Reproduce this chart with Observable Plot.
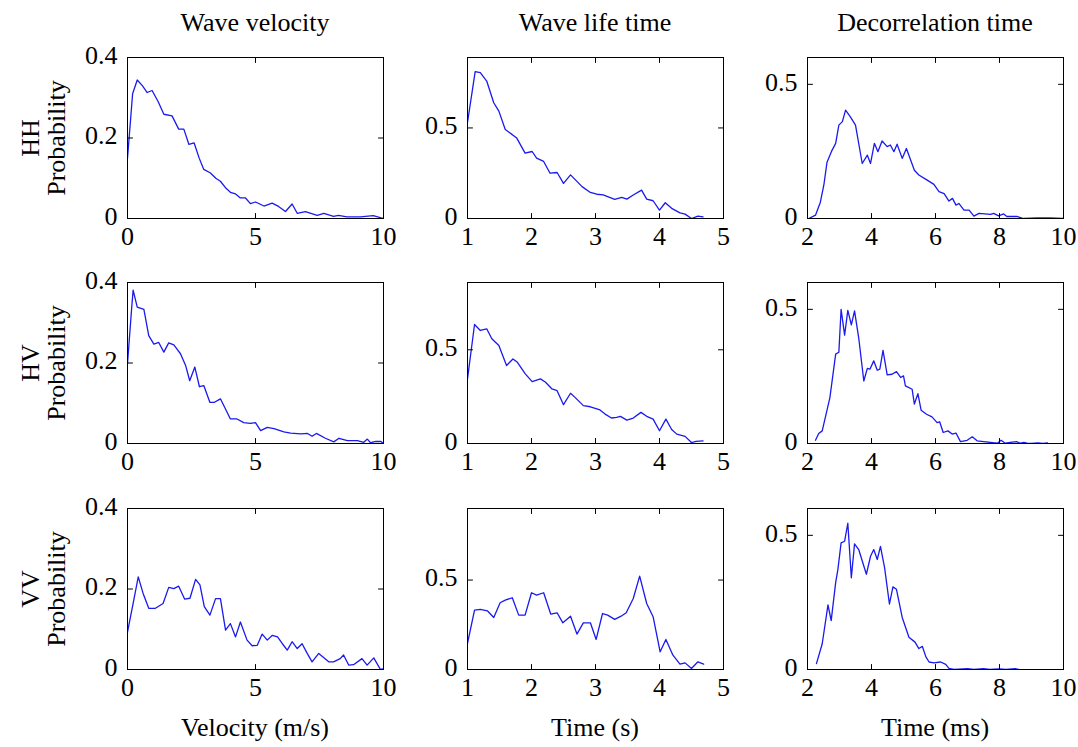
<!DOCTYPE html>
<html><head><meta charset="utf-8">
<script src="https://cdn.jsdelivr.net/npm/d3@7"></script>
<script src="https://cdn.jsdelivr.net/npm/@observablehq/plot@0.6"></script>
<style>
body{margin:0;background:#fff;}
#chart{position:relative;width:1078px;height:747px;font-family:"Liberation Serif",serif;font-size:26px;color:#000;overflow:hidden;}
.lbl{position:absolute;white-space:nowrap;line-height:26px;}
.panel{position:absolute;}
#chart svg, #chart svg text{font-family:"Liberation Serif",serif !important;font-size:26px !important;font-variant-numeric:normal !important;}
</style></head><body><div id="chart"></div>
<script>
// ---- labels ----
const columnTitles = ["Wave velocity", "Wave life time", "Decorrelation time"];
const xLabels = ["Velocity (m/s)", "Time (s)", "Time (ms)"];
const rowNames = ["HH", "HV", "VV"];
const yLabel = "Probability";

// ---- axis settings per column ----
const xDomains = [[0, 10], [1, 5], [2, 10]];
const xTickValues = [[0, 5, 10], [1, 2, 3, 4, 5], [2, 4, 6, 8, 10]];
const yTickValues = [[0, 0.2, 0.4], [0, 0.5], [0, 0.5]];
const yMaxVelocity = [0.4, 0.4, 0.4];
const yMaxLife = [0.889, 0.859, 0.90];
const yMaxDecor = [0.6, 0.6, 0.6];

// ---- data: [x, probability] ----
const velocityHH = [[0,0.15],[0.2,0.31],[0.38,0.344],[0.58,0.33],[0.77,0.313],[0.96,0.318],[1.2,0.29],[1.42,0.259],[1.74,0.255],[2.0,0.222],[2.2,0.222],[2.4,0.184],[2.6,0.188],[2.8,0.15],[2.98,0.122],[3.24,0.113],[3.45,0.1],[3.63,0.0925],[3.85,0.075],[4.02,0.065],[4.22,0.061],[4.41,0.051],[4.61,0.051],[4.8,0.037],[5.0,0.041],[5.33,0.031],[5.65,0.038],[5.9,0.030],[6.17,0.0175],[6.43,0.036],[6.63,0.013],[6.95,0.017],[7.41,0.008],[7.67,0.0125],[8.05,0.005],[8.24,0.008],[8.57,0.004],[9.1,0.004],[9.6,0.007],[10,0]];
const lifeHH = [[1.0,0.53],[1.12,0.811],[1.2,0.806],[1.30,0.759],[1.41,0.639],[1.49,0.593],[1.59,0.491],[1.70,0.463],[1.77,0.444],[1.90,0.361],[2.01,0.370],[2.08,0.333],[2.19,0.315],[2.29,0.25],[2.40,0.254],[2.50,0.194],[2.61,0.241],[2.79,0.176],[2.92,0.144],[3.02,0.134],[3.12,0.130],[3.30,0.106],[3.41,0.117],[3.49,0.107],[3.59,0.130],[3.72,0.157],[3.80,0.107],[3.90,0.098],[4.0,0.046],[4.09,0.087],[4.19,0.056],[4.32,0.031],[4.40,0.024],[4.50,0.0],[4.60,0.013],[4.68,0.009]];
const decorHH = [[2.04,0],[2.25,0.0125],[2.4,0.06],[2.51,0.124],[2.61,0.21],[2.75,0.25],[2.88,0.28],[2.98,0.348],[3.09,0.361],[3.19,0.404],[3.34,0.379],[3.5,0.348],[3.71,0.205],[3.87,0.236],[3.97,0.205],[4.09,0.28],[4.20,0.249],[4.33,0.289],[4.49,0.268],[4.59,0.274],[4.70,0.249],[4.80,0.277],[4.96,0.224],[5.09,0.261],[5.22,0.219],[5.34,0.18],[5.48,0.162],[5.74,0.143],[5.95,0.127],[6.11,0.1],[6.27,0.093],[6.42,0.065],[6.53,0.075],[6.64,0.05],[6.73,0.056],[6.89,0.031],[7.05,0.031],[7.20,0.009],[7.36,0.019],[7.72,0.015],[7.82,0.019],[7.97,0.01],[8.13,0.017],[8.23,0.0075],[8.54,0.0075],[8.75,0],[9.17,0.002],[9.58,0.002],[10,0]];
const velocityHV = [[0,0.198],[0.16,0.334],[0.22,0.381],[0.38,0.339],[0.64,0.333],[0.83,0.268],[1.03,0.247],[1.22,0.251],[1.42,0.227],[1.61,0.25],[1.81,0.245],[2.07,0.223],[2.27,0.194],[2.43,0.156],[2.63,0.19],[2.81,0.141],[2.98,0.144],[3.22,0.102],[3.38,0.102],[3.63,0.111],[4.02,0.061],[4.28,0.061],[4.54,0.052],[4.80,0.05],[5.0,0.052],[5.20,0.032],[5.46,0.04],[5.72,0.037],[6.11,0.029],[6.37,0.026],[6.77,0.024],[7.03,0.025],[7.21,0.018],[7.38,0.025],[7.73,0.013],[8.06,0.004],[8.26,0.013],[8.59,0.007],[8.98,0.007],[9.23,0.003],[9.37,0.011],[9.49,0.002],[9.7,0.005],[9.9,0.005],[10,0]];
const lifeHV = [[1.0,0.345],[1.11,0.635],[1.20,0.603],[1.30,0.612],[1.38,0.559],[1.49,0.523],[1.61,0.416],[1.71,0.451],[1.78,0.433],[1.90,0.373],[2.01,0.330],[2.14,0.345],[2.22,0.327],[2.32,0.291],[2.40,0.282],[2.50,0.207],[2.61,0.268],[2.68,0.246],[2.81,0.202],[2.92,0.196],[3.07,0.179],[3.15,0.157],[3.25,0.136],[3.33,0.139],[3.39,0.145],[3.49,0.125],[3.59,0.136],[3.71,0.166],[3.80,0.145],[3.90,0.13],[4.0,0.068],[4.10,0.13],[4.19,0.075],[4.27,0.05],[4.40,0.038],[4.50,0.005],[4.57,0.011],[4.68,0.014]];
const decorHV = [[2.25,0.012],[2.35,0.037],[2.46,0.047],[2.70,0.171],[2.88,0.333],[2.98,0.34],[3.05,0.5],[3.16,0.404],[3.26,0.496],[3.37,0.442],[3.47,0.494],[3.60,0.394],[3.76,0.233],[3.87,0.28],[3.95,0.277],[4.07,0.308],[4.18,0.273],[4.26,0.277],[4.36,0.347],[4.49,0.256],[4.64,0.258],[4.78,0.268],[4.91,0.246],[5.0,0.252],[5.06,0.215],[5.27,0.202],[5.34,0.147],[5.45,0.186],[5.55,0.124],[5.72,0.109],[5.89,0.099],[6.05,0.078],[6.13,0.081],[6.24,0.041],[6.39,0.047],[6.52,0.035],[6.64,0.039],[6.78,0.007],[6.99,0.012],[7.15,0.025],[7.30,0.01],[7.51,0.007],[7.72,0.004],[7.93,0.001],[8.05,0.012],[8.18,0.001],[8.34,0.004],[8.53,0.007],[8.66,0.001],[8.76,0.004],[8.86,0.001],[9.0,0],[9.2,0.002],[9.35,0],[9.5,0.002]];
const velocityVV = [[0,0.093],[0.22,0.164],[0.42,0.230],[0.61,0.189],[0.83,0.152],[1.09,0.152],[1.39,0.164],[1.61,0.204],[1.81,0.201],[2.0,0.207],[2.23,0.175],[2.44,0.177],[2.66,0.224],[2.83,0.21],[3.0,0.156],[3.22,0.135],[3.44,0.176],[3.63,0.176],[3.83,0.098],[4.02,0.114],[4.22,0.081],[4.41,0.118],[4.67,0.073],[4.87,0.059],[5.07,0.060],[5.26,0.088],[5.46,0.073],[5.66,0.085],[5.86,0.081],[6.05,0.064],[6.24,0.048],[6.43,0.069],[6.63,0.052],[6.82,0.064],[7.02,0.04],[7.21,0.019],[7.47,0.04],[7.66,0.03],[7.86,0.019],[8.05,0.019],[8.31,0.027],[8.44,0.036],[8.64,0.011],[8.83,0.012],[9.16,0.027],[9.36,0.011],[9.62,0.029],[9.88,0],[10,0.002]];
const lifeVV = [[1.0,0.146],[1.11,0.332],[1.20,0.336],[1.31,0.328],[1.41,0.291],[1.51,0.373],[1.59,0.388],[1.70,0.401],[1.80,0.304],[1.90,0.304],[2.0,0.429],[2.08,0.416],[2.19,0.429],[2.30,0.31],[2.40,0.317],[2.49,0.261],[2.61,0.298],[2.71,0.198],[2.81,0.261],[2.92,0.261],[3.01,0.168],[3.11,0.313],[3.19,0.304],[3.30,0.28],[3.40,0.298],[3.48,0.317],[3.59,0.397],[3.69,0.522],[3.80,0.369],[3.90,0.295],[4.01,0.099],[4.10,0.168],[4.21,0.08],[4.32,0.03],[4.40,0.037],[4.50,0.006],[4.60,0.043],[4.69,0.03]];
const decorVV = [[2.28,0.022],[2.46,0.096],[2.64,0.241],[2.74,0.182],[2.88,0.324],[2.95,0.373],[3.05,0.472],[3.16,0.478],[3.26,0.545],[3.37,0.342],[3.47,0.468],[3.60,0.447],[3.84,0.355],[3.97,0.422],[4.07,0.447],[4.18,0.41],[4.28,0.459],[4.41,0.379],[4.56,0.244],[4.67,0.308],[4.78,0.299],[4.96,0.194],[5.17,0.12],[5.36,0.102],[5.48,0.078],[5.59,0.086],[5.70,0.047],[5.80,0.028],[5.95,0.025],[6.16,0.028],[6.32,0.019],[6.42,0.004],[6.58,0],[7.0,0.003],[7.2,0],[7.5,0.003],[7.7,0],[8.0,0.002],[8.2,0],[8.5,0.003],[8.6,0]];

const grid = [
  [velocityHH, lifeHH, decorHH],
  [velocityHV, lifeHV, decorHV],
  [velocityVV, lifeVV, decorVV]
];
const yMaxes = [yMaxVelocity, yMaxLife, yMaxDecor];

// ---- layout ----
const colLeft = [127, 467, 807];
const rowTop = [57, 282, 508];
const FW = 256, FH = 161;
const ML = 70, MR = 12, MT = 10, MB = 42;

const chart = document.getElementById("chart");
const tickShape = {draw(ctx, l) { ctx.moveTo(0, 0); ctx.lineTo(0, -l); }};
const TK = 5;
const fmt = d => String(d);

function panel(data, xd, yd, xt, yt) {
  const vopt = {length: TK, anchor: "start", shape: tickShape, stroke: "black", strokeWidth: 1};
  return Plot.plot({
    width: FW + ML + MR, height: FH + MT + MB,
    marginLeft: ML, marginRight: MR, marginTop: MT, marginBottom: MB,
    style: "font-family: 'Liberation Serif', serif; font-size: 26px; color: black; background: transparent; overflow: visible;",
    x: {domain: xd},
    y: {domain: yd},
    marks: [
      Plot.axisX({ticks: xt, tickFormat: fmt, tickSize: 0, tickPadding: 8, label: null}),
      Plot.axisY({ticks: yt, tickFormat: fmt, tickSize: 0, tickPadding: 10, label: null, dy: -2}),
      Plot.line(data, {x: d => d[0], y: d => d[1], stroke: "#1a1aee", strokeWidth: 1.3, clip: true}),
      Plot.frame({stroke: "black", strokeWidth: 1}),
      Plot.vector(xt, {...vopt, x: d => d, y: () => yd[0], rotate: 0}),
      Plot.vector(xt, {...vopt, x: d => d, y: () => yd[1], rotate: 180}),
      Plot.vector(yt, {...vopt, x: () => xd[0], y: d => d, rotate: 90}),
      Plot.vector(yt, {...vopt, x: () => xd[1], y: d => d, rotate: 270})
    ]
  });
}

for (let r = 0; r < 3; r++) {
  for (let c = 0; c < 3; c++) {
    const p = panel(grid[r][c], xDomains[c], [0, yMaxes[c][r]], xTickValues[c], yTickValues[c]);
    p.classList.add("panel");
    p.style.position = "absolute";
    p.style.left = (colLeft[c] - ML) + "px";
    p.style.top = (rowTop[r] - MT) + "px";
    chart.appendChild(p);
  }
}

function addLabel(html, style) {
  const d = document.createElement("div");
  d.className = "lbl";
  d.innerHTML = html;
  Object.assign(d.style, style);
  chart.appendChild(d);
}
for (let c = 0; c < 3; c++) {
  const cx = colLeft[c] + FW / 2;
  addLabel(columnTitles[c], {left: cx + "px", top: "10px", transform: "translateX(-50%)"});
  addLabel(xLabels[c], {left: cx + "px", top: "715px", transform: "translateX(-50%)"});
}
for (let r = 0; r < 3; r++) {
  const cy = rowTop[r] + FH / 2;
  addLabel(rowNames[r] + "<br>" + yLabel, {left: "44px", top: cy + "px", textAlign: "center", transform: "translate(-50%,-50%) rotate(-90deg)"});
}
</script></body></html>
